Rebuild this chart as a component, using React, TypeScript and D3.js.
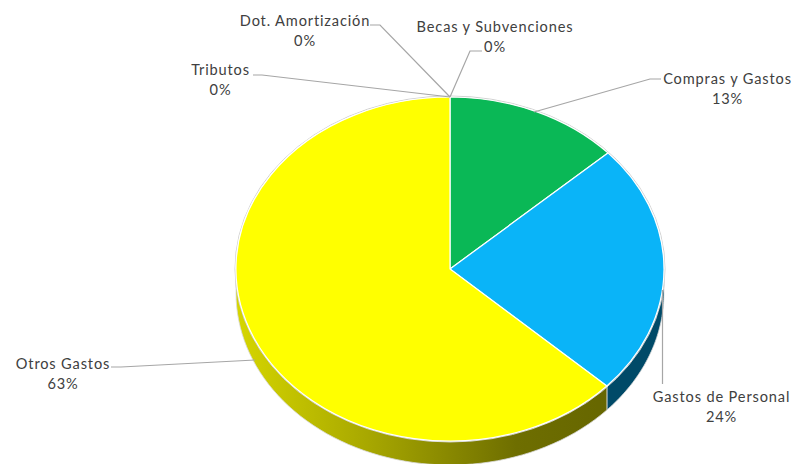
import React from "react";
import * as d3 from "d3";

const categories = ["Compras y Gastos", "Gastos de Personal", "Otros Gastos", "Tributos", "Dot. Amortización", "Becas y Subvenciones"];
const values = [13.2, 23.7, 63.1, 0, 0, 0];
const percentLabels = ["13%", "24%", "63%", "0%", "0%", "0%"];
const topColors = ["#0ab856", "#0ab4f8", "#ffff00", "#888888", "#888888", "#888888"];

const W = 794, H = 464;
const cx = 450, cy = 269, rx = 214, ry = 172, depth = 24;

// label placement: text centre x, first baseline y, leader knee and leader start
const labelLayout: Record<string, { x: number; y: number; leader: [number, number][] }> = {
  "Compras y Gastos": { x: 727.5, y: 84, leader: [[661, 79], [650, 79], [534, 112]] },
  "Gastos de Personal": { x: 721.5, y: 402, leader: [[662.5, 384], [662.5, 290]] },
  "Otros Gastos": { x: 63, y: 369, leader: [[111, 367], [121, 367], [255, 360]] },
  "Tributos": { x: 220.5, y: 75, leader: [[253, 75], [262, 75], [450, 97]] },
  "Dot. Amortización": { x: 305, y: 26, leader: [[370, 25], [380, 25], [450, 97]] },
  "Becas y Subvenciones": { x: 495, y: 32, leader: [[482, 51], [470, 51], [450, 97]] },
};

const pie = d3.pie<number>().sort(null).value((d) => d)(values);
const unitArc = d3.arc<d3.PieArcDatum<number>>().innerRadius(0).outerRadius(1);
const px = (a: number) => cx + rx * Math.sin(a);
const py = (a: number) => cy - ry * Math.cos(a);

// Outer wall of a slice between two clock angles, clipped to the visible front half
function wall(a0: number, a1: number) {
  const s = Math.max(a0, Math.PI / 2), e = Math.min(a1, (3 * Math.PI) / 2);
  if (e <= s) return null;
  const steps = d3.range(0, 61).map((i) => s + ((e - s) * i) / 60);
  const top = steps.map((a) => [px(a), py(a)] as [number, number]);
  const bottom = steps.slice().reverse().map((a) => [px(a), py(a) + depth] as [number, number]);
  return d3.line()([...top, ...bottom]) + "Z";
}

const wallFill = ["#0a6f38", "#004a68", "url(#yellowWall)"];
const leaderLine = d3.line();
const font = { fontFamily: "Lato, sans-serif", fontSize: 14.6, letterSpacing: 0.85, fill: "#404040" };

export default function App() {
  return (
    <svg width={W} height={H} viewBox={`0 0 ${W} ${H}`} style={{ position: "absolute", left: 0, top: 0, background: "#fff" }}>
      <defs>
        <linearGradient id="yellowWall" gradientUnits="userSpaceOnUse" x1={cx - rx} y1="0" x2={px(Math.PI) + 160} y2="0">
          <stop offset="0" stopColor="#d6d600" />
          <stop offset="0.35" stopColor="#a8a800" />
          <stop offset="0.75" stopColor="#6e6e00" />
          <stop offset="1" stopColor="#666600" />
        </linearGradient>
      </defs>
      {pie.slice(0, 3).map((d, i) => {
        const p = wall(d.startAngle, d.endAngle);
        return p ? <path key={i} d={p} fill={wallFill[i]} stroke="#d9d9d9" strokeWidth={0.8} /> : null;
      })}
      <ellipse cx={cx} cy={cy} rx={rx + 1} ry={ry + 1} fill="none" stroke="#cfcfcf" strokeWidth={1} />
      {pie.slice(0, 3).map((d, i) => (
        <path
          key={i}
          d={unitArc(d) ?? ""}
          transform={`translate(${cx},${cy}) scale(${rx},${ry})`}
          fill={topColors[i]}
          stroke="#ffffff"
          strokeWidth={1.2}
          vectorEffect="non-scaling-stroke"
        />
      ))}
      {categories.map((c, i) => {
        const l = labelLayout[c];
        return (
          <g key={c}>
            <path d={leaderLine(l.leader) ?? ""} fill="none" stroke="#a6a6a6" strokeWidth={1.2} />
            <text x={l.x} y={l.y} textAnchor="middle" {...font}>{c}</text>
            <text x={l.x} y={l.y + 20} textAnchor="middle" {...font}>{percentLabels[i]}</text>
          </g>
        );
      })}
    </svg>
  );
}
